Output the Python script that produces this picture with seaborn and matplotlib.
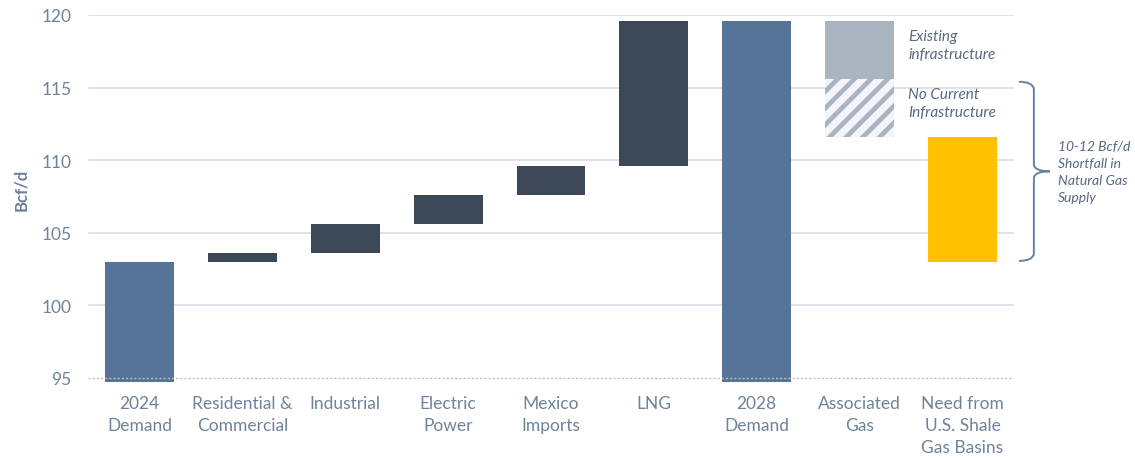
import numpy as np
import pandas as pd
import matplotlib
matplotlib.use("Agg")
import matplotlib.pyplot as plt
from matplotlib.path import Path
from matplotlib.patches import PathPatch
import seaborn as sns

# ---------------- data ----------------
categories = ["2024\nDemand", "Residential &\nCommercial", "Industrial", "Electric\nPower",
              "Mexico\nImports", "LNG", "2028\nDemand", "Associated\nGas",
              "Need from\nU.S. Shale\nGas Basins"]
demand_2024 = 103.0
increment_labels = ["Residential &\nCommercial", "Industrial", "Electric\nPower", "Mexico\nImports", "LNG"]
increments = [0.6, 2.0, 2.0, 2.0, 10.0]
demand_2028 = 119.6
assoc_existing = 4.0        # existing infrastructure
assoc_no_infra = 4.0        # no current infrastructure
shale_need = 8.6
yticks = [95, 100, 105, 110, 115, 120]

# ---------------- style ----------------
sns.set_theme(style="white")
plt.rcParams["font.family"] = ["Lato", "DejaVu Sans"]
plt.rcParams["hatch.linewidth"] = 3.4

BLUE = "#56739A"
DARK = "#3C4856"
GREY = "#A9B4C0"
PALE = "#F4F5FB"
GOLD = "#FFC000"
TXT = "#6E8399"
ANN = "#58697E"

fig = plt.figure(figsize=(11.35, 4.6), dpi=100)
ax = fig.add_axes([0.0775, 0.1683, 0.8159, 0.797])

# totals
tot = pd.DataFrame({"cat": [categories[0], categories[6]],
                    "val": [demand_2024, demand_2028]})
sns.barplot(data=tot, x="cat", y="val", order=categories, color=BLUE, saturation=1,
            width=0.67, errorbar=None, linewidth=0, ax=ax, zorder=3)

# increments (floating)
inc_low = demand_2024 + np.concatenate([[0], np.cumsum(increments)[:-1]])
inc = pd.DataFrame({"cat": increment_labels, "val": increments})
sns.barplot(data=inc, x="cat", y="val", order=categories, color=DARK, saturation=1,
            width=0.67, errorbar=None, linewidth=0, bottom=list(inc_low), ax=ax, zorder=3)

# associated gas - existing
ex_low = demand_2028 - assoc_existing
sns.barplot(data=pd.DataFrame({"cat": [categories[7]], "val": [assoc_existing]}),
            x="cat", y="val", order=categories, color=GREY, saturation=1, width=0.67,
            errorbar=None, linewidth=0, bottom=[ex_low], ax=ax, zorder=3)

# associated gas - no current infrastructure (hatched)
ni_low = ex_low - assoc_no_infra
sns.barplot(data=pd.DataFrame({"cat": [categories[7]], "val": [assoc_no_infra]}),
            x="cat", y="val", order=categories, color=PALE, saturation=1, width=0.67,
            errorbar=None, linewidth=0, bottom=[ni_low], ax=ax, zorder=3,
            hatch="//", edgecolor=GREY, fill=True)

# need from shale
sns.barplot(data=pd.DataFrame({"cat": [categories[8]], "val": [shale_need]}),
            x="cat", y="val", order=categories, color=GOLD, saturation=1, width=0.67,
            errorbar=None, linewidth=0, bottom=[demand_2024], ax=ax, zorder=3)

# axes styling
ax.set_ylim(94.75, 120)
ax.set_xlim(-0.5, len(categories) - 0.5)
ax.set_yticks(yticks)
for y in yticks[1:]:
    ax.axhline(y, color="#DCE2EA", lw=1.3, zorder=1)
ax.axhline(yticks[0], color="#BDBDBD", lw=1.0, ls=(0, (1.5, 1.5)), zorder=4)
for s in ax.spines.values():
    s.set_visible(False)
ax.tick_params(axis="both", length=0, labelsize=12.5, labelcolor=TXT)
ax.tick_params(axis="y", pad=12)
ax.tick_params(axis="x", pad=10)
for lab in ax.get_xticklabels():
    lab.set_linespacing(1.45)
ax.set_xlabel("")
ax.set_ylabel("Bcf/d", fontsize=12, fontweight="bold", color="#6B819A")
ax.yaxis.set_label_coords(-0.064, 0.525)

# annotations
ax.text(7 + 0.47, ex_low + assoc_existing / 2 + 0.35, "Existing\ninfrastructure",
        style="italic", fontsize=11, color=ANN, va="center", ha="left", linespacing=1.4)
ax.text(7 + 0.47, ni_low + assoc_no_infra / 2 + 0.33, "No Current\nInfrastructure",
        style="italic", fontsize=11, color=ANN, va="center", ha="left", linespacing=1.4)

# brace
b_top = ex_low - 0.2
b_bot = demand_2024 + 0.06
b_mid = (b_top + b_bot) / 2
x0, x1, x2 = 8.548, 8.693, 8.849
r = 0.5
verts = [(x0, b_top), (x1 - 0.01, b_top), (x1, b_top - r),
         (x1, b_mid + r),
         (x1, b_mid), (x2, b_mid),
         (x1, b_mid), (x1, b_mid - r),
         (x1, b_bot + r),
         (x1 - 0.01, b_bot), (x0, b_bot)]
codes = [Path.MOVETO, Path.CURVE3, Path.CURVE3,
         Path.LINETO,
         Path.CURVE3, Path.CURVE3,
         Path.CURVE3, Path.CURVE3,
         Path.LINETO,
         Path.CURVE3, Path.CURVE3]
ax.add_patch(PathPatch(Path(verts, codes), fill=False, edgecolor="#6B819A", lw=1.4,
                       clip_on=False, zorder=5))
ax.text(8.927, b_mid, "10-12 Bcf/d\nShortfall in\nNatural Gas\nSupply",
        style="italic", fontsize=10, color=ANN, va="center", ha="left", linespacing=1.52)

fig.savefig("out.png", dpi=100)
